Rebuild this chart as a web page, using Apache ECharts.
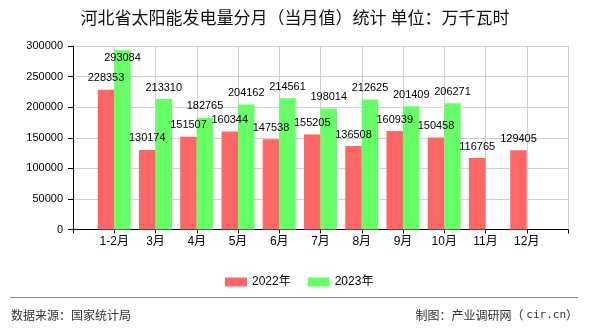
<!DOCTYPE html>
<html>
<head>
<meta charset="utf-8">
<script src="https://cdn.jsdelivr.net/npm/echarts@6/dist/echarts.min.js"></script>
<style>
html,body{margin:0;padding:0;background:#fff;}
#chart{width:590px;height:330px;}
</style>
</head>
<body>
<div id="chart"></div>
<script>
var titleText = '河北省太阳能发电量分月（当月值）统计 单位：万千瓦时';
var categories = ['1-2月','3月','4月','5月','6月','7月','8月','9月','10月','11月','12月'];
var seriesNames = ['2022年','2023年'];
var values2022 = [228353,130174,151507,160344,147538,155205,136508,160939,150458,116765,129405];
var values2023 = [293084,213310,182765,204162,214561,198014,212625,201409,206271,null,null];
var yMin = 0, yMax = 300000, yInterval = 50000;
var sourceText = '数据来源：国家统计局';
var creditText = '制图：产业调研网（ {m|cir.cn}）';

var numFont = "'Liberation Sans', 'Noto Sans CJK SC', sans-serif";
var cjkFont = "'Noto Sans CJK SC', sans-serif";
var monoFont = "'DejaVu Sans Mono', 'Liberation Mono', monospace";

var axisCats = [''].concat(categories).concat(['']);
function pad(arr){ return [null].concat(arr).concat([null]); }

function buildData(arr, isTopClamp){
  return pad(arr).map(function(v){
    if (v == null) return null;
    if (isTopClamp && v > yMax * 0.95) {
      return {value: v, label: {position: 'insideTop', distance: 2}};
    }
    return v;
  });
}

var chart = echarts.init(document.getElementById('chart'), null, {renderer:'canvas'});
var labelCfg = {show:true, position:'top', distance:6, color:'#000', fontSize:11, fontFamily:numFont};
chart.setOption({
  animation:false,
  title:{
    text:titleText, left:'center', top:9, padding:0,
    textStyle:{fontSize:17, fontWeight:'normal', color:'#111', fontFamily:cjkFont}
  },
  legend:{
    data:seriesNames, left:220, top:271, itemWidth:22, itemHeight:9, itemGap:17,
    icon:'rect',
    textStyle:{fontSize:12, color:'#000', fontFamily:numFont}
  },
  grid:{left:73, right:22, top:46, bottom:100.5, containLabel:false},
  xAxis:{
    type:'category', data:axisCats, boundaryGap:false,
    axisLine:{lineStyle:{color:'#000', width:1}},
    axisTick:{show:true, interval:0, length:4, lineStyle:{color:'#000'}},
    axisLabel:{interval:0, margin:6, fontSize:12, color:'#000', fontFamily:numFont},
    splitLine:{show:true, interval:0, lineStyle:{color:'#d0d0d0', width:1}}
  },
  yAxis:{
    type:'value', min:yMin, max:yMax, interval:yInterval,
    axisLine:{show:true, lineStyle:{color:'#000', width:1}},
    axisTick:{show:true, length:5, lineStyle:{color:'#000'}},
    axisLabel:{margin:10, fontSize:11, color:'#000', fontFamily:numFont,
      formatter:function(v){ return String(v); }},
    splitLine:{show:true, lineStyle:{color:'#d0d0d0', width:1}}
  },
  series:[
    {name:seriesNames[0], type:'bar', data:buildData(values2022,false), barWidth:16.5, barGap:'0%',
     itemStyle:{color:'#ff6666'}, label:labelCfg},
    {name:seriesNames[1], type:'bar', data:buildData(values2023,true), barWidth:16.5, barGap:'0%',
     itemStyle:{color:'#66ff66'}, label:labelCfg}
  ],
  graphic:[
    {type:'line', shape:{x1:10, y1:297.5, x2:578, y2:297.5}, style:{stroke:'#888', lineWidth:1}},
    {type:'text', left:11, top:309, style:{text:sourceText, fill:'#333', font:'12px ' + cjkFont}},
    {type:'text', right:12, top:309, style:{text:creditText, fill:'#333', font:'12px ' + cjkFont,
      rich:{m:{fontFamily:monoFont, fontSize:11, fill:'#333'}}}}
  ]
});
</script>
</body>
</html>
